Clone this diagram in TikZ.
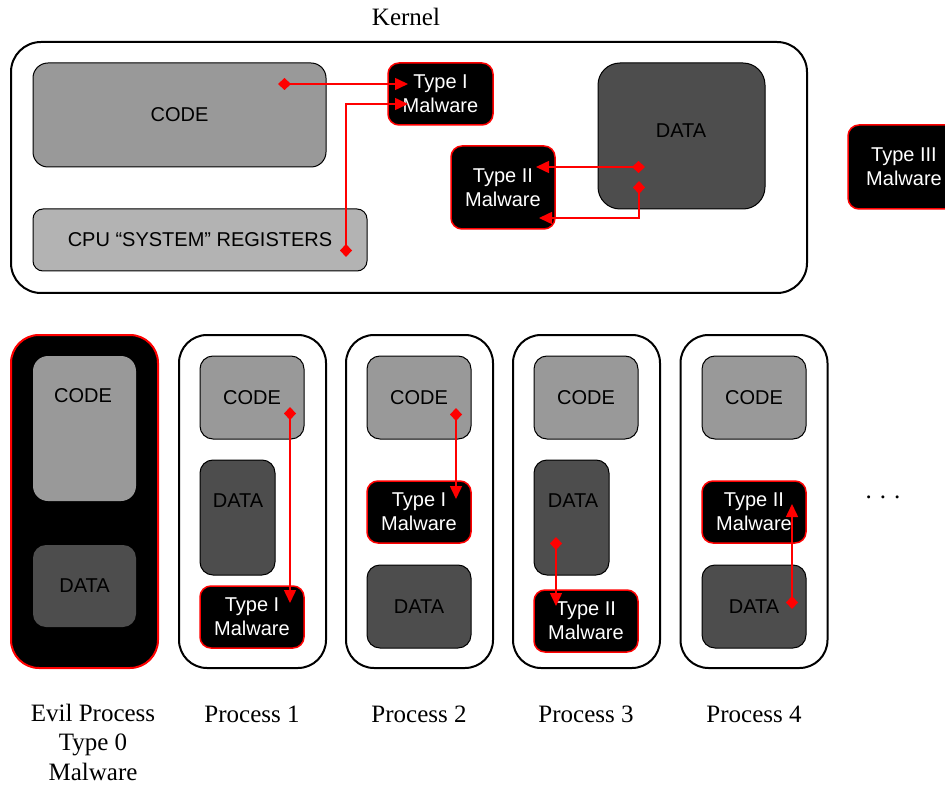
\documentclass[tikz,border=0pt]{standalone}
\usepackage{fontspec}
\setmainfont{Liberation Serif}
\newfontfamily\arialf{Liberation Sans}
\usetikzlibrary{arrows.meta}
\definecolor{codegray}{HTML}{999999}
\definecolor{reggray}{HTML}{B3B3B3}
\definecolor{datagray}{HTML}{4D4D4D}
\definecolor{mred}{HTML}{FF0000}
\begin{document}
\begin{tikzpicture}[x=1pt,y=-1pt,
  boxbase/.style={rectangle, inner sep=0pt, font=\arialf\fontsize{20}{24}\selectfont, align=center},
  outerbox/.style={boxbase, draw=black, line width=2pt, fill=white, rounded corners=28pt},
  evilbox/.style={boxbase, draw=mred, line width=2pt, fill=black, rounded corners=28pt},
  codebox/.style={boxbase, draw=black, line width=1pt, fill=codegray, rounded corners=13pt},
  regbox/.style={boxbase, draw=black, line width=1pt, fill=reggray, rounded corners=10pt},
  databox/.style={boxbase, draw=black, line width=1pt, fill=datagray, rounded corners=13pt},
  malbox/.style={boxbase, draw=mred, line width=1.5pt, fill=black, text=white, rounded corners=11pt},
  lbl/.style={font=\fontsize{25}{30}\selectfont, align=center, inner sep=0pt},
  rarrow/.style={draw=mred, line width=1.5pt, {Diamond[length=13pt,width=12pt,fill=mred]}-{Triangle[length=13pt,width=12pt,fill=mred]}}
]
\useasboundingbox (0,0) rectangle (945,786);
\clip (0,0) rectangle (945,786);

% ---------- Kernel ----------
\node[lbl] (klabel) at (406,17) {Kernel};
\node[outerbox, minimum width=796pt, minimum height=251pt, rounded corners=30pt] (kernel) at (409,167.5) {};
\node[codebox, minimum width=293pt, minimum height=104pt, rounded corners=15pt] (kcode) at (179.5,115) {CODE};
\node[regbox, minimum width=334pt, minimum height=62pt] (kreg) at (200,240) {CPU \char"201C SYSTEM\char"201D\ REGISTERS};
\node[malbox, minimum width=105pt, minimum height=62pt] (kt1) at (440.5,94) {Type I\\Malware};
\node[databox, minimum width=167pt, minimum height=146pt, rounded corners=22pt] (kdata) at (681.5,136) {};
\node[boxbase] (kdatat) at (681,131) {DATA};
\node[malbox, minimum width=104pt, minimum height=83pt] (kt2) at (503,187.5) {Type II\\Malware};
\node[malbox, minimum width=112pt, minimum height=84pt] (t3) at (904,167) {Type III\\Malware};

% kernel connector endpoints
\coordinate (a1s) at (278,84);  \coordinate (a1e) at (408,84);
\coordinate (a2s) at (346,257); \coordinate (a2m) at (346,104); \coordinate (a2e) at (408,104);
\coordinate (a3s) at (645,167); \coordinate (a3e) at (536,167);
\coordinate (a4s) at (639,181); \coordinate (a4m) at (639,218); \coordinate (a4e) at (539,218);

% ---------- Evil process ----------
\node[evilbox, minimum width=147pt, minimum height=333pt] (evil) at (84.5,501.5) {};
\node[codebox, draw=none, minimum width=103pt, minimum height=145pt, rounded corners=15pt] (ecode) at (84.5,428.5) {};
\node[boxbase] (ecodet) at (83,396) {CODE};
\node[databox, draw=none, minimum width=103pt, minimum height=82pt] (edata) at (84.5,586) {DATA};

% ---------- Process 1 ----------
\node[outerbox, minimum width=147pt, minimum height=333pt] (p1) at (252.5,501.5) {};
\node[codebox, minimum width=104pt, minimum height=83pt] (p1code) at (252,397.5) {CODE};
\node[databox, minimum width=75pt, minimum height=115pt] (p1data) at (237.5,517.5) {};
\node[boxbase] (p1datat) at (238,501) {DATA};
\node[malbox, minimum width=104pt, minimum height=62pt] (p1mal) at (252,617) {Type I\\Malware};

% ---------- Process 2 ----------
\node[outerbox, minimum width=147pt, minimum height=333pt] (p2) at (419.5,501.5) {};
\node[codebox, minimum width=104pt, minimum height=83pt] (p2code) at (419,397.5) {CODE};
\node[malbox, minimum width=104pt, minimum height=62pt] (p2mal) at (419,512) {Type I\\Malware};
\node[databox, minimum width=104pt, minimum height=83pt] (p2data) at (419,606.5) {DATA};

% ---------- Process 3 ----------
\node[outerbox, minimum width=147pt, minimum height=333pt] (p3) at (586.5,501.5) {};
\node[codebox, minimum width=104pt, minimum height=83pt] (p3code) at (586,397.5) {CODE};
\node[databox, minimum width=75pt, minimum height=115pt] (p3data) at (571.5,517.5) {};
\node[boxbase] (p3datat) at (573,501) {DATA};
\node[malbox, minimum width=104pt, minimum height=62pt] (p3mal) at (586,621) {Type II\\Malware};

% ---------- Process 4 ----------
\node[outerbox, minimum width=147pt, minimum height=333pt] (p4) at (754,501.5) {};
\node[codebox, minimum width=104pt, minimum height=83pt] (p4code) at (754,397.5) {CODE};
\node[malbox, minimum width=104pt, minimum height=62pt] (p4mal) at (754,512) {Type II\\Malware};
\node[databox, minimum width=104pt, minimum height=83pt] (p4data) at (754,606.5) {DATA};

\node[lbl] (dots) at (883,497) {.\hspace{8pt}.\hspace{8pt}.};

% process connector endpoints
\coordinate (b1s) at (290,407); \coordinate (b1e) at (290,603);
\coordinate (b2s) at (456,408); \coordinate (b2e) at (456,499);
\coordinate (b3s) at (556,537); \coordinate (b3e) at (556,606);
\coordinate (b4s) at (792,609); \coordinate (b4e) at (792,504);

% ---------- connectors ----------
\draw[rarrow] (a1s) -- (a1e);
\draw[rarrow] (a2s) -- (a2m) -- (a2e);
\draw[rarrow] (a3s) -- (a3e);
\draw[rarrow] (a4s) -- (a4m) -- (a4e);
\draw[rarrow] (b1s) -- (b1e);
\draw[rarrow] (b2s) -- (b2e);
\draw[rarrow] (b3s) -- (b3e);
\draw[rarrow] (b4s) -- (b4e);

% ---------- labels ----------
\node[lbl, font=\fontsize{25}{29.5}\selectfont] (l0) at (93,742) {Evil Process\\Type 0\\Malware};
\node[lbl] (l1) at (252,714) {Process 1};
\node[lbl] (l2) at (419,714) {Process 2};
\node[lbl] (l3) at (586,714) {Process 3};
\node[lbl] (l4) at (754,714) {Process 4};
\end{tikzpicture}
\end{document}
